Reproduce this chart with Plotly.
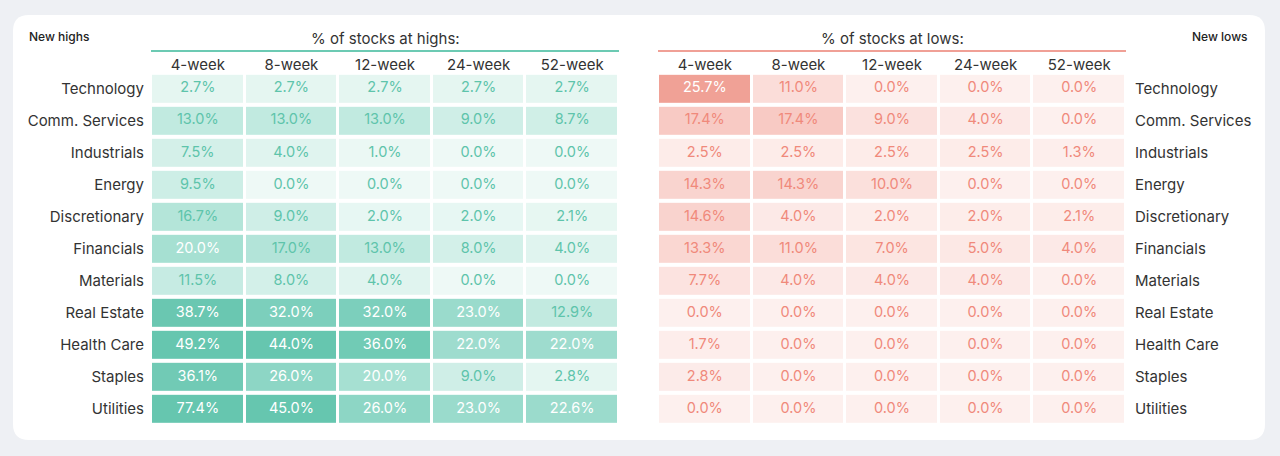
import plotly.graph_objects as go

sectors = ["Technology", "Comm. Services", "Industrials", "Energy", "Discretionary",
           "Financials", "Materials", "Real Estate", "Health Care", "Staples", "Utilities"]
periods = ["4-week", "8-week", "12-week", "24-week", "52-week"]

highs = [
    [2.7, 2.7, 2.7, 2.7, 2.7],
    [13.0, 13.0, 13.0, 9.0, 8.7],
    [7.5, 4.0, 1.0, 0.0, 0.0],
    [9.5, 0.0, 0.0, 0.0, 0.0],
    [16.7, 9.0, 2.0, 2.0, 2.1],
    [20.0, 17.0, 13.0, 8.0, 4.0],
    [11.5, 8.0, 4.0, 0.0, 0.0],
    [38.7, 32.0, 32.0, 23.0, 12.9],
    [49.2, 44.0, 36.0, 22.0, 22.0],
    [36.1, 26.0, 20.0, 9.0, 2.8],
    [77.4, 45.0, 26.0, 23.0, 22.6],
]
lows = [
    [25.7, 11.0, 0.0, 0.0, 0.0],
    [17.4, 17.4, 9.0, 4.0, 0.0],
    [2.5, 2.5, 2.5, 2.5, 1.3],
    [14.3, 14.3, 10.0, 0.0, 0.0],
    [14.6, 4.0, 2.0, 2.0, 2.1],
    [13.3, 11.0, 7.0, 5.0, 4.0],
    [7.7, 4.0, 4.0, 4.0, 0.0],
    [0.0, 0.0, 0.0, 0.0, 0.0],
    [1.7, 0.0, 0.0, 0.0, 0.0],
    [2.8, 0.0, 0.0, 0.0, 0.0],
    [0.0, 0.0, 0.0, 0.0, 0.0],
]

W, H = 1280, 456
FONT = "Inter"


def px(x):
    return x / W


def py(y):
    return 1 - y / H


green_scale = [[0, "#eef9f6"], [0.4, "#b7e6db"], [0.65, "#8dd6c5"], [1, "#66c6af"]]
red_scale = [[0, "#fdf0ee"], [0.4, "#fbdfdb"], [0.65, "#f8cdc7"], [1, "#f09f94"]]

fig = go.Figure()

fig.add_trace(go.Heatmap(z=highs, x=periods, y=sectors, colorscale=green_scale, zmin=0, zmax=40,
                         showscale=False, xgap=3, ygap=4, hoverinfo="skip", xaxis="x", yaxis="y"))
fig.add_trace(go.Heatmap(z=lows, x=periods, y=sectors, colorscale=red_scale, zmin=0, zmax=26,
                         showscale=False, xgap=3, ygap=4, hoverinfo="skip", xaxis="x2", yaxis="y2"))


def text_trace(data, xa, ya, base_color, thresh):
    xs, ys, ts, cs = [], [], [], []
    for i, s in enumerate(sectors):
        for j, p in enumerate(periods):
            v = data[i][j]
            xs.append(p)
            ys.append(s)
            ts.append(f"{v:.1f}%")
            cs.append("#ffffff" if v >= thresh else base_color)
    return go.Scatter(x=xs, y=ys, text=ts, mode="text", textposition="middle center",
                      textfont=dict(family=FONT, size=14.5, color=cs), hoverinfo="skip",
                      showlegend=False, xaxis=xa, yaxis=ya)


fig.add_trace(text_trace(highs, "x", "y", "#5ec4ab", 18))
fig.add_trace(text_trace(lows, "x2", "y2", "#f0897b", 20))

axis_common = dict(showgrid=False, zeroline=False, showline=False, ticks="",
                   tickfont=dict(family=FONT, size=15, color="#333333"), fixedrange=True)

ydom = [py(427), py(71)]
fig.update_layout(
    width=W, height=H,
    margin=dict(l=0, r=0, t=0, b=0),
    paper_bgcolor="#eef0f4",
    plot_bgcolor="rgba(0,0,0,0)",
    showlegend=False,
    xaxis=dict(domain=[px(151), px(619)], side="top", anchor="y", ticklabelstandoff=-3, **axis_common),
    yaxis=dict(domain=ydom, anchor="x", autorange="reversed", ticklabelstandoff=6, **axis_common),
    xaxis2=dict(domain=[px(658), px(1126)], side="top", anchor="y2", ticklabelstandoff=-3, **axis_common),
    yaxis2=dict(domain=ydom, anchor="x2", side="right", autorange="reversed", ticklabelstandoff=8,
                **axis_common),
)

# card background with rounded corners
x0, x1, yt, yb = px(13), px(1265), py(15), py(440)
rx, ry = 16 / W, 16 / H
path = (f"M{x0+rx},{yt} L{x1-rx},{yt} Q{x1},{yt} {x1},{yt-ry} L{x1},{yb+ry} Q{x1},{yb} {x1-rx},{yb} "
        f"L{x0+rx},{yb} Q{x0},{yb} {x0},{yb+ry} L{x0},{yt-ry} Q{x0},{yt} {x0+rx},{yt} Z")
fig.add_shape(type="path", path=path, xref="paper", yref="paper", fillcolor="#ffffff",
              line=dict(width=0), layer="below")

fig.add_shape(type="line", xref="paper", yref="paper", x0=px(151), x1=px(619), y0=py(51), y1=py(51),
              line=dict(color="#6ccab3", width=2))
fig.add_shape(type="line", xref="paper", yref="paper", x0=px(658), x1=px(1126), y0=py(51), y1=py(51),
              line=dict(color="#f0a096", width=2))

fig.add_annotation(text="% of stocks at highs:", x=px(385), y=py(39), xref="paper", yref="paper",
                   showarrow=False, xanchor="center", yanchor="middle",
                   font=dict(family=FONT, size=15, color="#333333"))
fig.add_annotation(text="% of stocks at lows:", x=px(892), y=py(39), xref="paper", yref="paper",
                   showarrow=False, xanchor="center", yanchor="middle",
                   font=dict(family=FONT, size=15, color="#333333"))
fig.add_annotation(text="New highs", x=px(27), y=py(37), xref="paper", yref="paper",
                   showarrow=False, xanchor="left", yanchor="middle",
                   font=dict(family=FONT, size=12, color="#222222", weight=500))
fig.add_annotation(text="New lows", x=px(1250), y=py(37), xref="paper", yref="paper",
                   showarrow=False, xanchor="right", yanchor="middle",
                   font=dict(family=FONT, size=12, color="#222222", weight=500))

fig.write_html("out.html")
